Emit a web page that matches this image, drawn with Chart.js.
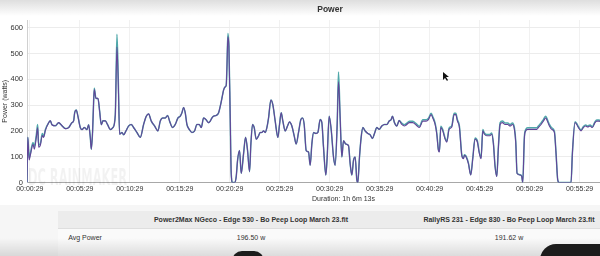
<!DOCTYPE html>
<html>
<head>
<meta charset="utf-8">
<script src="https://cdn.jsdelivr.net/npm/chart.js@4/dist/chart.umd.min.js"></script>
<style>
  html, body { margin: 0; padding: 0; width: 600px; height: 256px; overflow: hidden; background: #fff;
    font-family: "Liberation Sans", Arial, sans-serif; color: #333; }
  #shade { position: absolute; left: 0; top: 0; width: 600px; height: 16px; background: linear-gradient(#dedede, #fff); }
  #wrap { position: absolute; left: 0; top: 0; width: 690px; height: 205px; }
  #below { position: absolute; left: 0; top: 205px; width: 600px; height: 51px; background: #f6f6f6; }
  #head { position: absolute; left: 58px; top: 211px; width: 542px; height: 17px; background: #ececec; border-bottom: 1px solid #dedede; }
  #row { position: absolute; left: 58px; top: 229px; width: 542px; height: 27px; background: #fafafa; }
  .t { position: absolute; font-size: 7px; white-space: nowrap; transform: translateX(-50%); }
  .b { font-weight: bold; }
  #bottomShade { position: absolute; left: 0; top: 238px; width: 600px; height: 18px; background: linear-gradient(rgba(0,0,0,0), rgba(0,0,0,0.12)); }
  .blob { position: absolute; background: #1c1c1c; }
</style>
</head>
<body>
<div id="shade"></div>
<div id="wrap"><canvas id="powerChart" width="690" height="205"></canvas></div>
<div id="below"></div>
<div id="head"></div>
<div id="row"></div>
<div class="t b" style="left:251px;top:216px">Power2Max NGeco - Edge 530 - Bo Peep Loop March 23.fit</div>
<div class="t b" style="left:509px;top:216px">RallyRS 231 - Edge 830 - Bo Peep Loop March 23.fit</div>
<div class="t" style="left:85px;top:234px">Avg Power</div>
<div class="t" style="left:251px;top:234px">196.50 w</div>
<div class="t" style="left:509px;top:234px">191.62 w</div>
<div id="bottomShade"></div>
<div class="blob" style="left:232px;top:251px;width:32px;height:10px;border-radius:16px 16px 0 0"></div>
<div class="blob" style="left:540px;top:244px;width:66px;height:16px;border-radius:24px 8px 0 0"></div>
<svg style="position:absolute;left:443px;top:72px" width="8" height="10"><polygon points="0,0 0,8 2,6 4,9 5,8 3,5 6,5" fill="#111"/></svg>
<script>
// --- DATA ---
// elapsed time in seconds
const timeSec = [12,17,25,32,48,56,68,76,82,92,
  104,112,122,142,152,162,182,202,222,242,
  262,282,292,298,308,316,332,342,356,372,
  382,392,398,406,412,416,426,438,448,458,
  468,482,496,512,528,542,552,560,568,582,
  592,606,622,638,652,672,692,712,728,742,
  758,778,798,812,826,842,856,868,886,902,
  918,932,942,952,962,972,986,1002,1018,1032,
  1046,1058,1072,1086,1102,1112,1122,1132,1148,1162,
  1172,1182,1192,1202,1208,1212,1218,1224,1232,1238,
  1246,1258,1268,1276,1288,1298,1312,1324,1336,1348,
  1356,1366,1376,1388,1402,1412,1422,1432,1442,1452,
  1462,1476,1488,1502,1518,1528,1538,1548,1562,1576,
  1588,1602,1616,1628,1642,1656,1666,1676,1688,1702,
  1712,1722,1732,1746,1758,1772,1782,1792,1806,1814,
  1826,1838,1852,1862,1874,1882,1892,1902,1912,1926,
  1942,1952,1962,1972,1982,1992,1998,2008,2018,2028,
  2042,2058,2072,2086,2098,2112,2126,2142,2158,2172,
  2186,2198,2206,2218,2232,2246,2262,2278,2288,2308,
  2328,2348,2368,2388,2408,2422,2438,2448,2462,2472,
  2482,2488,2496,2508,2522,2532,2546,2562,2576,2586,
  2596,2608,2622,2632,2638,2648,2662,2676,2688,2702,
  2716,2726,2738,2748,2758,2772,2788,2802,2812,2822,
  2832,2842,2852,2866,2882,2898,2912,2926,2938,2946,
  2954,2972,2982,2988,2998,3006,3018,3038,3058,3072,
  3082,3098,3112,3126,3136,3148,3162,3178,3188,3198,
  3206,3278,3286,3302,3312,3322,3338,3352,3366,3378,
  3392,3406,3422,3432,3446,3458];

// RallyRS 231 (purple line, drawn on top)
const rallyWatts = [0,175,87,106,148,129,175,213,137,144,
  182,175,201,232,239,224,220,232,220,209,
  213,232,239,270,281,262,213,205,213,205,
  224,175,129,201,315,360,326,326,277,224,
  239,239,224,205,213,262,525,380,187,194,
  185,200,219,225,213,194,175,225,257,266,
  238,219,200,238,250,250,260,238,213,225,
  250,257,270,291,270,225,206,194,200,225,
  225,213,250,244,232,238,250,257,260,270,
  295,326,358,371,377,440,565,529,250,35,
  0,0,23,86,124,35,111,175,124,42,
  149,225,213,168,181,194,194,200,194,213,
  250,320,301,238,175,225,270,238,200,219,
  235,219,181,149,194,244,250,225,124,118,
  67,149,194,190,194,244,232,137,29,99,
  257,206,99,67,225,390,250,99,162,149,
  143,73,29,86,99,10,0,99,175,213,
  200,190,185,171,190,213,206,219,225,225,
  238,244,257,232,219,240,225,219,223,232,
  232,223,213,238,238,244,263,250,225,187,
  124,118,213,200,168,156,206,215,263,263,
  238,213,105,92,105,99,73,29,92,168,
  156,118,92,200,187,181,181,187,149,61,
  23,137,225,232,225,225,219,225,206,156,
  35,29,23,0,175,200,206,206,206,206,
  213,225,238,250,238,219,206,194,111,10,
  0,0,111,232,225,213,200,213,219,215,
  219,213,232,238,238,235];

// Power2Max NGeco (teal line)
const p2mWatts = [0,175,95,112,155,140,185,225,145,150,
  190,178,205,232,239,224,220,232,220,209,
  213,232,239,270,281,262,213,205,213,205,
  224,175,129,201,315,365,326,326,277,224,
  239,239,224,205,213,262,575,400,187,194,
  185,200,219,225,213,194,175,225,257,266,
  238,219,200,238,250,250,260,238,213,225,
  250,257,270,291,270,225,206,194,200,225,
  225,213,250,244,232,238,250,257,260,270,
  295,326,358,371,377,440,578,529,250,35,
  0,0,23,86,124,35,111,175,124,42,
  149,225,213,168,181,194,194,200,194,213,
  250,320,301,238,175,225,270,238,200,219,
  235,219,181,149,194,244,250,225,124,118,
  67,149,194,190,194,244,232,137,29,99,
  257,206,99,67,225,428,250,99,162,149,
  143,73,29,86,99,10,0,99,175,213,
  200,190,185,171,190,213,206,219,225,225,
  238,244,257,232,219,240,230,224,228,237,
  237,228,218,243,243,249,268,255,230,192,
  127,121,218,205,172,160,211,220,268,268,
  243,218,108,95,108,102,75,30,95,173,
  161,121,95,205,192,186,186,192,152,63,
  24,140,231,238,231,231,225,231,212,160,
  36,30,24,0,178,205,212,212,212,212,
  219,231,244,257,244,225,212,199,114,10,
  0,0,113,236,229,217,204,217,223,219,
  223,217,236,242,242,239];

const tickLabels = ['00:00:29','00:05:29','00:10:29','00:15:29','00:20:29','00:25:29',
  '00:30:29','00:35:29','00:40:29','00:45:29','00:50:29','00:55:29'];
const wattTicks = [0, 100, 200, 300, 400, 500, 600];

// "hh:mm:ss" -> seconds
function toSec(s) {
  const p = s.split(':').map(Number);
  return p[0] * 3600 + p[1] * 60 + p[2];
}

// faint watermark in the lower left of the plot
const watermark = {
  id: 'watermark',
  beforeDatasetsDraw(chart) {
    const ctx = chart.ctx;
    ctx.save();
    ctx.font = 'bold 23px "DejaVu Sans Condensed", "DejaVu Sans", sans-serif';
    const w = ctx.measureText('DC RAINMAKER').width;
    ctx.translate(28, 185);
    ctx.scale(99 / w, 1);
    ctx.fillStyle = 'rgba(0,0,0,0.05)';
    ctx.fillText('DC RAINMAKER', 0, 0);
    ctx.restore();
  }
};

const font = { family: '"Liberation Sans", Arial, sans-serif', size: 7, lineHeight: 1 };

new Chart(document.getElementById('powerChart'), {
  type: 'line',
  data: {
    datasets: [
      {
        label: 'RallyRS 231',
        data: timeSec.map((t, i) => ({ x: t, y: rallyWatts[i] })),
        borderColor: 'rgb(98,68,152)',
        borderWidth: 1.1
      },
      {
        label: 'Power2Max NGeco',
        data: timeSec.map((t, i) => ({ x: t, y: p2mWatts[i] })),
        borderColor: 'rgb(80,168,170)',
        borderWidth: 1.5
      }
    ]
  },
  options: {
    responsive: false,
    animation: false,
    layout: { padding: { left: 0, right: 30, top: 0, bottom: 2.5 } },
    elements: {
      point: { radius: 0 },
      line: { cubicInterpolationMode: 'monotone' }
    },
    plugins: {
      legend: { display: false },
      tooltip: { enabled: false },
      title: {
        display: true,
        text: 'Power',
        color: '#333',
        font: { family: font.family, size: 8.5, weight: 'bold', lineHeight: 1.2 },
        padding: { top: 4.6, bottom: 5.2 }
      }
    },
    scales: {
      x: {
        type: 'linear',
        min: 12,
        max: 3812,
        afterBuildTicks(axis) {
          axis.ticks = tickLabels.map(l => ({ value: toSec(l) }));
        },
        ticks: {
          autoSkip: false,
          maxRotation: 0,
          padding: 3,
          color: '#333',
          font: font,
          callback: (v, i) => tickLabels[i]
        },
        grid: { color: '#f1f1f1', drawTicks: false },
        border: { color: '#a8a8a8' },
        title: { display: true, text: 'Duration: 1h 6m 13s', color: '#333', font: font, padding: 0 }
      },
      y: {
        min: 0,
        max: 630,
        afterFit(scale) { scale.width = 27; },
        afterBuildTicks(axis) {
          axis.ticks = wattTicks.map(v => ({ value: v }));
        },
        ticks: { padding: 4, color: '#333', font: { family: font.family, size: 7.5 } },
        grid: { color: '#ececec', drawTicks: false },
        border: { color: '#d0d0d0' },
        title: { display: true, text: 'Power (watts)', color: '#333', font: font, padding: { top: 1.5, bottom: 0 } }
      }
    }
  },
  plugins: [watermark]
});
</script>
</body>
</html>
